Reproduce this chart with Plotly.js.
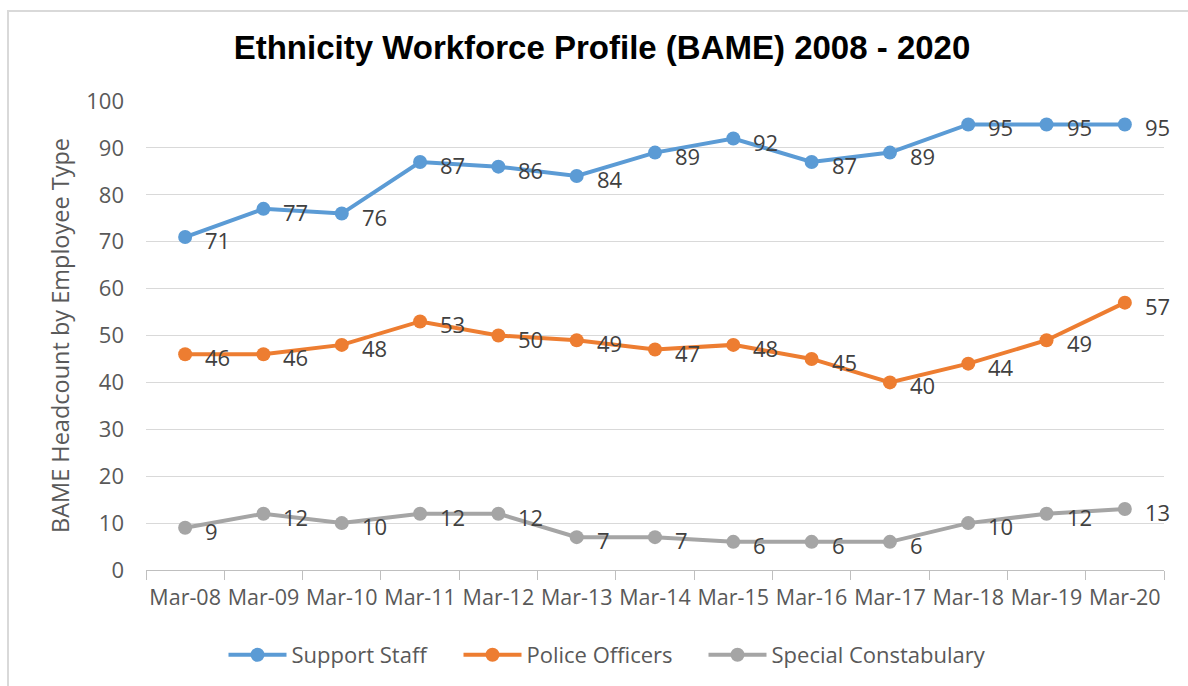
<!DOCTYPE html>
<html>
<head>
<meta charset="utf-8">
<script src="https://cdn.plot.ly/plotly-3.0.1.min.js"></script>
<style>
html,body{margin:0;padding:0;background:#fff;}
#chart{width:1188px;height:686px;}
</style>
</head>
<body>
<div id="chart"></div>
<script>
var categories = ["Mar-08","Mar-09","Mar-10","Mar-11","Mar-12","Mar-13","Mar-14","Mar-15","Mar-16","Mar-17","Mar-18","Mar-19","Mar-20"];
var supportStaff = [71,77,76,87,86,84,89,92,87,89,95,95,95];
var policeOfficers = [46,46,48,53,50,49,47,48,45,40,44,49,57];
var specialConstabulary = [9,12,10,12,12,7,7,6,6,6,10,12,13];
var seriesNames = ["Support Staff","Police Officers","Special Constabulary"];
var yTicks = [0,10,20,30,40,50,60,70,80,90,100];

var colors = ["#5B9BD5","#ED7D31","#A5A5A5"];
var legendWidths = [162, 172, 220];
var FONT = "Open Sans, Liberation Sans, sans-serif";
var allSeries = [supportStaff, policeOfficers, specialConstabulary];

var traces = allSeries.map(function(vals, k){
  return {
    type: "scatter", mode: "lines+markers",
    name: seriesNames[k],
    x: categories, y: vals,
    line: {color: colors[k], width: 4},
    marker: {color: colors[k], size: 14},
    cliponaxis: false,
    legendwidth: legendWidths[k],
    hoverinfo: "x+y+name"
  };
});

var annotations = [];
allSeries.forEach(function(vals){
  vals.forEach(function(v, i){
    annotations.push({
      x: categories[i], y: v, xref: "x", yref: "y",
      text: String(v), showarrow: false,
      xanchor: "left", yanchor: "middle",
      xshift: 18, yshift: -3,
      font: {family: FONT, size: 22, color: "#404040"}
    });
  });
});

var L = 146, R = 1164, T = 101, B = 570;
var pw = R - L, ph = B - T;
function px(x){ return (x - L) / pw; }
function py(y){ return (B - y) / ph; }

var layout = {
  width: 1188, height: 686,
  margin: {l: L, r: 1188 - R, t: T, b: 686 - B},
  paper_bgcolor: "#fff", plot_bgcolor: "#fff",
  font: {family: FONT, color: "#595959"},
  title: {
    text: "<b>Ethnicity Workforce Profile (BAME) 2008 - 2020</b>",
    font: {family: "Liberation Sans, Arial, sans-serif", size: 33, color: "#000"},
    xref: "container", yref: "container",
    x: 602/1188, xanchor: "center", y: 1 - 47/686, yanchor: "middle"
  },
  xaxis: {
    type: "category",
    range: [-0.5, categories.length - 0.5],
    tickson: "boundaries",
    ticks: "outside", ticklen: 9, tickcolor: "#BFBFBF", tickwidth: 1,
    showline: true, linecolor: "#BFBFBF", linewidth: 1,
    showgrid: false, zeroline: false,
    tickangle: 0,
    ticklabelstandoff: 8,
    tickfont: {family: FONT, size: 21.5, color: "#595959"},
    fixedrange: true
  },
  yaxis: {
    range: [0, 100],
    tickvals: yTicks,
    ticktext: yTicks.map(String),
    showgrid: true, gridcolor: "#D9D9D9", gridwidth: 1,
    zeroline: false, showline: false, ticks: "",
    ticklabelstandoff: 21,
    tickfont: {family: FONT, size: 22, color: "#595959"},
    title: {text: "BAME Headcount by Employee Type", font: {family: FONT, size: 23.5, color: "#595959"}, standoff: 10},
    fixedrange: true
  },
  showlegend: true,
  legend: {
    orientation: "h",
    xref: "container", yref: "container",
    x: 610/1188, xanchor: "center",
    y: 1 - 655/686, yanchor: "middle",
    font: {family: FONT, size: 22, color: "#595959"},
    itemwidth: 58, tracegroupgap: 0,
    traceorder: "normal"
  },
  annotations: annotations,
  shapes: [{
    type: "rect", xref: "paper", yref: "paper",
    x0: px(8), x1: px(1200), y0: py(700), y1: py(11),
    line: {color: "#D9D9D9", width: 2}, fillcolor: "rgba(0,0,0,0)", layer: "below"
  }]
};

Plotly.newPlot("chart", traces, layout, {displayModeBar: false, staticPlot: true});
</script>
</body>
</html>
